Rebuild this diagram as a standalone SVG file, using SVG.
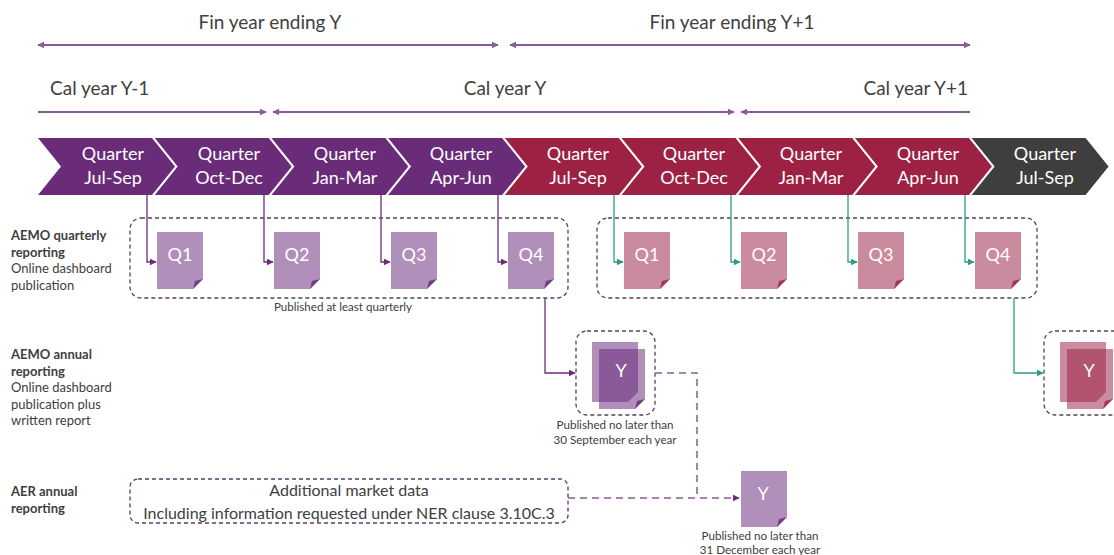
<svg xmlns="http://www.w3.org/2000/svg" width="1114" height="555" viewBox="0 0 1114 555">
<style>
text{font-family:Lato,"Open Sans","Liberation Sans",sans-serif;}
.hdr{font-size:19px;fill:#404040;}
.q{font-size:18px;fill:#ffffff;text-anchor:middle;}
.lbl{font-size:13px;fill:#404040;}
.b{font-weight:bold;}
.cap{font-size:11.6px;fill:#404040;text-anchor:middle;}
.aer{font-size:16px;fill:#404040;text-anchor:middle;}
.dl{font-size:18px;fill:#ffffff;text-anchor:middle;}
.span{stroke:#8B5A9B;stroke-width:1.8;fill:none;}
.cp{stroke:#6B2D7B;stroke-width:1.3;fill:none;}
.ct{stroke:#2E9B89;stroke-width:1.3;fill:none;}
.grp{fill:none;stroke:#4F4556;stroke-width:1.3;stroke-dasharray:4 3;}
.dash{stroke:#8B5A9B;stroke-width:1.5;stroke-dasharray:7 5;fill:none;}
.pd{fill:#67287B;fill-opacity:0.52;}
.pf{fill:#67287B;fill-opacity:0.8;}
.rd{fill:#9C2145;fill-opacity:0.52;}
.rf{fill:#9C2145;fill-opacity:0.8;}
.chp{fill:#6A2C79;}
.chr{fill:#9C2143;}
.chg{fill:#3E3E3E;}
</style>
<defs>
<marker id="ap" viewBox="0 0 10 10" refX="9" refY="5" markerWidth="7" markerHeight="7" markerUnits="userSpaceOnUse" orient="auto-start-reverse"><path d="M0,0 L10,5 L0,10 Z" fill="#6B2D7B"/></marker>
<marker id="as" viewBox="0 0 10 10" refX="9" refY="5" markerWidth="7" markerHeight="7" markerUnits="userSpaceOnUse" orient="auto-start-reverse"><path d="M0,0 L10,5 L0,10 Z" fill="#8B5A9B"/></marker>
<marker id="at" viewBox="0 0 10 10" refX="9" refY="5" markerWidth="7" markerHeight="7" markerUnits="userSpaceOnUse" orient="auto-start-reverse"><path d="M0,0 L10,5 L0,10 Z" fill="#2E9B89"/></marker>
</defs>

<g id="headers">
<text class="hdr" x="270" y="29" text-anchor="middle">Fin year ending Y</text>
<text class="hdr" x="732" y="29" text-anchor="middle">Fin year ending Y+1</text>
<text class="hdr" x="50" y="95">Cal year Y-1</text>
<text class="hdr" x="505" y="95" text-anchor="middle">Cal year Y</text>
<text class="hdr" x="968" y="95" text-anchor="end">Cal year Y+1</text>
</g>

<g id="spans">
<line class="span" x1="38" y1="45" x2="498" y2="45" marker-start="url(#as)" marker-end="url(#as)"/>
<line class="span" x1="510" y1="45" x2="970" y2="45" marker-start="url(#as)" marker-end="url(#as)"/>
<line class="span" x1="38" y1="112" x2="266" y2="112" marker-end="url(#as)"/>
<line class="span" x1="273" y1="112" x2="734" y2="112" marker-start="url(#as)" marker-end="url(#as)"/>
<line class="span" x1="741" y1="112" x2="970" y2="112" marker-start="url(#as)"/>
</g>

<g id="quarters">
<g id="q-1"><polygon class="chp" points="38,138 152,138 175,166.5 152,195 38,195 61,166.5"/><text class="q" x="113" y="160">Quarter</text><text class="q" x="113" y="184">Jul-Sep</text></g>
<g id="q-2"><polygon class="chp" points="154.7,138 268.7,138 291.7,166.5 268.7,195 154.7,195 177.7,166.5"/><text class="q" x="229" y="160">Quarter</text><text class="q" x="229" y="184">Oct-Dec</text></g>
<g id="q-3"><polygon class="chp" points="271.4,138 385.4,138 408.4,166.5 385.4,195 271.4,195 294.4,166.5"/><text class="q" x="345" y="160">Quarter</text><text class="q" x="345" y="184">Jan-Mar</text></g>
<g id="q-4"><polygon class="chp" points="388.1,138 502.1,138 525.1,166.5 502.1,195 388.1,195 411.1,166.5"/><text class="q" x="461" y="160">Quarter</text><text class="q" x="461" y="184">Apr-Jun</text></g>
<g id="q-5"><polygon class="chr" points="504.8,138 618.8,138 641.8,166.5 618.8,195 504.8,195 527.8,166.5"/><text class="q" x="578" y="160">Quarter</text><text class="q" x="578" y="184">Jul-Sep</text></g>
<g id="q-6"><polygon class="chr" points="621.5,138 735.5,138 758.5,166.5 735.5,195 621.5,195 644.5,166.5"/><text class="q" x="694" y="160">Quarter</text><text class="q" x="694" y="184">Oct-Dec</text></g>
<g id="q-7"><polygon class="chr" points="738.2,138 852.2,138 875.2,166.5 852.2,195 738.2,195 761.2,166.5"/><text class="q" x="811" y="160">Quarter</text><text class="q" x="811" y="184">Jan-Mar</text></g>
<g id="q-8"><polygon class="chr" points="854.9,138 968.9,138 991.9,166.5 968.9,195 854.9,195 877.9,166.5"/><text class="q" x="928" y="160">Quarter</text><text class="q" x="928" y="184">Apr-Jun</text></g>
<g id="q-9"><polygon class="chg" points="971.6,138 1085.6,138 1108.6,166.5 1085.6,195 971.6,195 994.6,166.5"/><text class="q" x="1045" y="160">Quarter</text><text class="q" x="1045" y="184">Jul-Sep</text></g>
</g>

<g id="row-labels">
<text class="lbl" x="11" y="240"><tspan class="b">AEMO quarterly</tspan><tspan class="b" x="11" dy="16.5">reporting</tspan><tspan x="11" dy="16.5">Online dashboard</tspan><tspan x="11" dy="16.5">publication</tspan></text>
<text class="lbl" x="11" y="359"><tspan class="b">AEMO annual</tspan><tspan class="b" x="11" dy="16.5">reporting</tspan><tspan x="11" dy="16.5">Online dashboard</tspan><tspan x="11" dy="16.5">publication plus</tspan><tspan x="11" dy="16.5">written report</tspan></text>
<text class="lbl" x="11" y="496"><tspan class="b">AER annual</tspan><tspan class="b" x="11" dy="16.5">reporting</tspan></text>
</g>

<g id="quarterly-group-1">
<rect class="grp" x="130" y="218" width="438" height="80" rx="11"/>
<text class="cap" x="343" y="311">Published at least quarterly</text>
</g>
<g id="quarterly-group-2">
<rect class="grp" x="597" y="218" width="440" height="80" rx="11"/>
</g>

<g id="docs-fy-y">
<g id="doc-q1a"><path class="pd" d="M157,232 H203 V279 L193,289 H157 Z"/><path class="pf" d="M203,279 L193,289 L195,281 Z"/><text class="dl" x="180" y="261">Q1</text></g>
<g id="doc-q2a"><path class="pd" d="M274,232 H320 V279 L310,289 H274 Z"/><path class="pf" d="M320,279 L310,289 L312,281 Z"/><text class="dl" x="297" y="261">Q2</text></g>
<g id="doc-q3a"><path class="pd" d="M391,232 H437 V279 L427,289 H391 Z"/><path class="pf" d="M437,279 L427,289 L429,281 Z"/><text class="dl" x="414" y="261">Q3</text></g>
<g id="doc-q4a"><path class="pd" d="M508,232 H554 V279 L544,289 H508 Z"/><path class="pf" d="M554,279 L544,289 L546,281 Z"/><text class="dl" x="531" y="261">Q4</text></g>
</g>
<g id="docs-fy-y1">
<g id="doc-q1b"><path class="rd" d="M624,232 H670 V279 L660,289 H624 Z"/><path class="rf" d="M670,279 L660,289 L662,281 Z"/><text class="dl" x="647" y="261">Q1</text></g>
<g id="doc-q2b"><path class="rd" d="M741,232 H787 V279 L777,289 H741 Z"/><path class="rf" d="M787,279 L777,289 L779,281 Z"/><text class="dl" x="764" y="261">Q2</text></g>
<g id="doc-q3b"><path class="rd" d="M858,232 H904 V279 L894,289 H858 Z"/><path class="rf" d="M904,279 L894,289 L896,281 Z"/><text class="dl" x="881" y="261">Q3</text></g>
<g id="doc-q4b"><path class="rd" d="M975,232 H1021 V279 L1011,289 H975 Z"/><path class="rf" d="M1021,279 L1011,289 L1013,281 Z"/><text class="dl" x="998" y="261">Q4</text></g>
</g>

<g id="annual-aemo-y">
<rect class="grp" x="576" y="331" width="79" height="84" rx="11"/>
<path class="pd" d="M592,342 H638 V392 L628,402 H592 Z"/>
<path class="pd" d="M599,349 H645 V399 L635,409 H599 Z"/>
<path class="pf" d="M645,399 L635,409 L637,401 Z"/>
<text class="dl" x="621" y="377">Y</text>
<text class="cap" x="615" y="429">Published no later than</text>
<text class="cap" x="615" y="444">30 September each year</text>
</g>

<g id="annual-aemo-y1">
<rect class="grp" x="1044" y="331" width="90" height="84" rx="11"/>
<path class="rd" d="M1060,342 H1106 V392 L1096,402 H1060 Z"/>
<path class="rd" d="M1067,349 H1113 V399 L1103,409 H1067 Z"/>
<path class="rf" d="M1113,399 L1103,409 L1105,401 Z"/>
<text class="dl" x="1089" y="377">Y</text>
</g>

<g id="aer-data">
<rect x="130" y="479" width="438" height="44" rx="8" fill="none" stroke="#5E3A6C" stroke-width="1.3" stroke-dasharray="4 3"/>
<text class="aer" x="349" y="496">Additional market data</text>
<text class="aer" x="349" y="519">Including information requested under NER clause 3.10C.3</text>
</g>

<g id="aer-y">
<path class="pd" d="M741,471 H787 V517 L777,527 H741 Z"/>
<path class="pf" d="M787,517 L777,527 L779,519 Z"/>
<text class="dl" x="763" y="500">Y</text>
<text class="cap" x="760" y="540">Published no later than</text>
<text class="cap" x="760" y="554">31 December each year</text>
</g>

<g id="connectors">
<path class="cp" d="M147,195 V262 H156" marker-end="url(#ap)"/>
<path class="cp" d="M264,195 V262 H273" marker-end="url(#ap)"/>
<path class="cp" d="M381,195 V262 H390" marker-end="url(#ap)"/>
<path class="cp" d="M498,195 V262 H507" marker-end="url(#ap)"/>
<path class="ct" d="M614,195 V262 H623" marker-end="url(#at)"/>
<path class="ct" d="M731,195 V262 H740" marker-end="url(#at)"/>
<path class="ct" d="M848,195 V262 H857" marker-end="url(#at)"/>
<path class="ct" d="M965,195 V262 H974" marker-end="url(#at)"/>
<path class="cp" d="M545,298 V373 H575" marker-end="url(#ap)"/>
<path class="ct" d="M1014,298 V373 H1043" marker-end="url(#at)"/>
<path class="dash" d="M655,373 H697 V498"/>
<path class="dash" d="M568,498 H739" marker-end="url(#ap)"/>
</g>
</svg>
